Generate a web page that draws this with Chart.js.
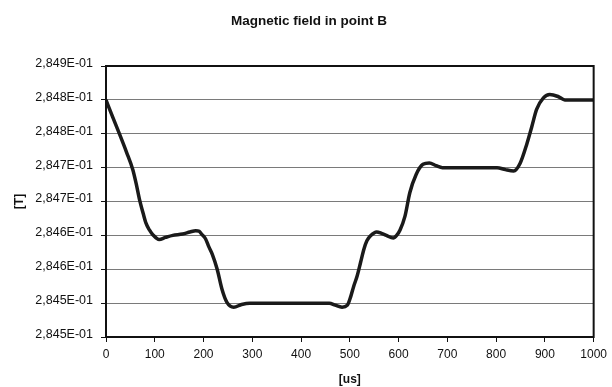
<!DOCTYPE html>
<html>
<head>
<meta charset="utf-8">
<script src="https://cdn.jsdelivr.net/npm/chart.js@4"></script>
<style>
  html, body { margin: 0; padding: 0; background: #fff; }
  #wrap { width: 612px; height: 387px; }
</style>
</head>
<body>
<div id="wrap"><canvas id="c" width="612" height="387"></canvas></div>
<script>
// Time samples [us] and field values [T]
const timeUs = [0, 14, 28, 42, 55, 62, 69, 76, 82, 89, 96, 109, 122, 137, 157, 172, 184, 191, 197, 204, 211, 218, 228, 238, 248, 262, 278, 295, 350, 400, 458, 470, 484, 495, 502, 508, 515, 522, 529, 535, 542, 555, 565, 575, 589, 596, 603, 613, 623, 636, 650, 663, 677, 690, 750, 802, 819, 836, 849, 863, 873, 883, 897, 910, 927, 941, 1000];
const fieldT = [0.28485, 0.284824, 0.284799, 0.284773, 0.284747, 0.284726, 0.284702, 0.284683, 0.284668, 0.284658, 0.284651, 0.284644, 0.284647, 0.28465, 0.284652, 0.284655, 0.284657, 0.284656, 0.284651, 0.284645, 0.284633, 0.284622, 0.2846, 0.28457, 0.284551, 0.284544, 0.284548, 0.28455, 0.28455, 0.28455, 0.28455, 0.284547, 0.284544, 0.284547, 0.28456, 0.284575, 0.28459, 0.28461, 0.28463, 0.284642, 0.284649, 0.284655, 0.284653, 0.28465, 0.284646, 0.28465, 0.284658, 0.284678, 0.284713, 0.28474, 0.284755, 0.284757, 0.284753, 0.28475, 0.28475, 0.28475, 0.284747, 0.284745, 0.284756, 0.284785, 0.28481, 0.284836, 0.284853, 0.284858, 0.284855, 0.28485, 0.28485];

// Y axis ticks and their printed labels
const yTickValues = [0.28450, 0.28455, 0.28460, 0.28465, 0.28470, 0.28475, 0.28480, 0.28485, 0.28490];
const yTickLabels = ['2,845E-01', '2,845E-01', '2,846E-01', '2,846E-01', '2,847E-01', '2,847E-01', '2,848E-01', '2,848E-01', '2,849E-01'];
const xTickValues = [0, 100, 200, 300, 400, 500, 600, 700, 800, 900, 1000];

const chartTitle = 'Magnetic field in point B';

const FONT = 'Liberation Sans, Arial, sans-serif';

// Black frame around the plot area and the chart heading
const decor = {
  id: 'decor',
  afterDatasetsDraw(chart) {
    const a = chart.chartArea, ctx = chart.ctx;
    ctx.save();
    ctx.strokeStyle = '#111';
    ctx.lineWidth = 2;
    ctx.strokeRect(a.left, a.top, a.right - a.left, a.bottom - a.top);
    ctx.restore();
  },
  afterDraw(chart) {
    const ctx = chart.ctx;
    ctx.save();
    ctx.fillStyle = '#111';
    ctx.font = 'bold 13.5px ' + FONT;
    ctx.textAlign = 'center';
    ctx.textBaseline = 'middle';
    ctx.fillText(chartTitle, 309, 21);
    ctx.restore();
  }
};

new Chart(document.getElementById('c'), {
  type: 'line',
  data: {
    datasets: [{
      data: timeUs.map((t, i) => ({ x: t, y: fieldT[i] })),
      borderColor: '#1a1a1a',
      borderWidth: 3.5,
      pointRadius: 0,
      fill: false,
      cubicInterpolationMode: 'monotone'
    }]
  },
  options: {
    responsive: false,
    animation: false,
    layout: { padding: { left: 0, right: 14, top: 66, bottom: 0 } },
    plugins: {
      legend: { display: false },
      tooltip: { enabled: false },
      title: { display: false }
    },
    scales: {
      x: {
        type: 'linear',
        min: 0, max: 1000,
        afterBuildTicks(s) { s.ticks = xTickValues.map(v => ({ value: v })); },
        afterFit(s) { s.height = 50; },
        grid: { drawOnChartArea: false, drawTicks: true, tickLength: 5, color: '#111', lineWidth: 1 },
        border: { color: '#111', width: 2 },
        ticks: {
          color: '#111', font: { family: FONT, size: 12 }, padding: 5, maxRotation: 0,
          callback(v) { return String(v); }
        },
        title: {
          display: true, text: '[us]', color: '#111',
          font: { family: FONT, size: 12, weight: 'bold', lineHeight: 1 },
          padding: { top: 0, bottom: 1 }
        }
      },
      y: {
        min: 0.2845, max: 0.2849,
        afterBuildTicks(s) { s.ticks = yTickValues.map(v => ({ value: v })); },
        afterFit(s) { s.width = 106; },
        grid: { color: '#7a7a7a', lineWidth: 1, drawTicks: true, tickLength: 5, tickColor: '#111' },
        border: { color: '#111', width: 2 },
        ticks: {
          color: '#111', font: { family: FONT, size: 12.5 }, padding: 8, labelOffset: -2.5,
          callback(v, i) { return yTickLabels[i]; }
        },
        title: {
          display: true, text: '[T]', color: '#111',
          font: { family: FONT, size: 12, weight: 'bold', lineHeight: 1.2 },
          padding: { top: 12, bottom: 0 }
        }
      }
    }
  },
  plugins: [decor]
});
</script>
</body>
</html>
